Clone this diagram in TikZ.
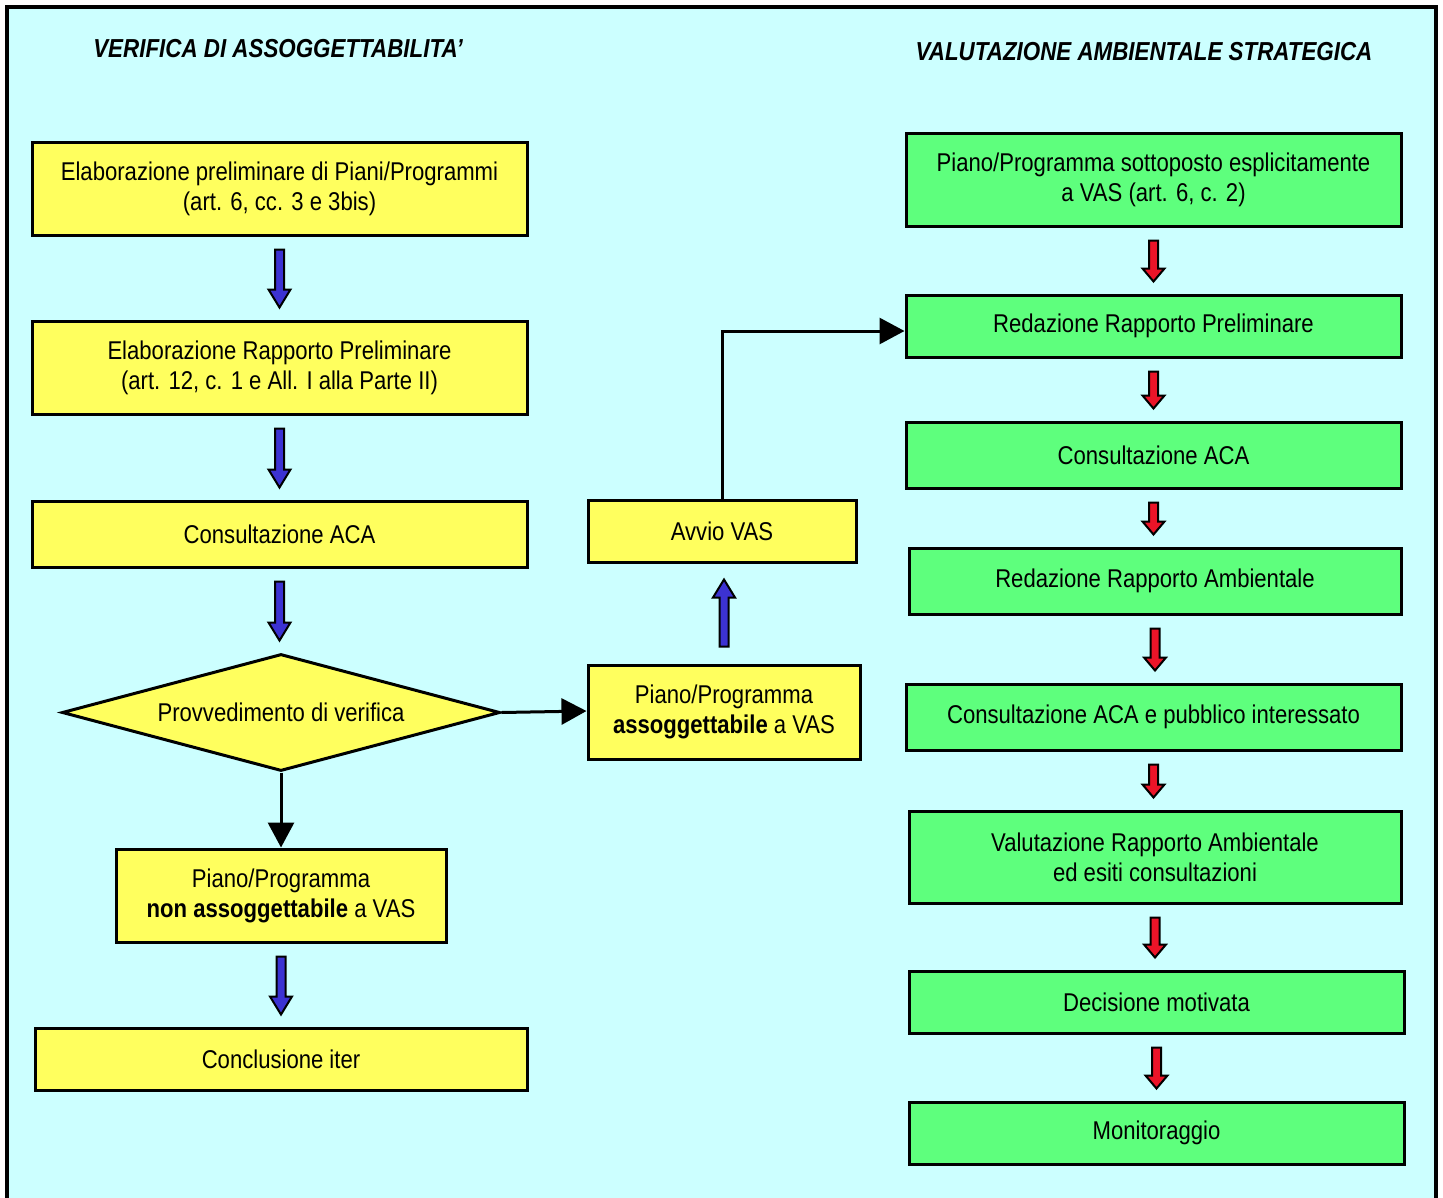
\documentclass[tikz,border=0pt]{standalone}
\usepackage{fontspec}
\setmainfont{Liberation Sans}[FakeStretch=0.86]
\usetikzlibrary{shapes.geometric,positioning,calc,arrows.meta}
\definecolor{bgcyan}{RGB}{204,255,255}
\definecolor{boxyellow}{RGB}{255,255,94}
\definecolor{boxgreen}{RGB}{94,255,125}
\definecolor{arrblue}{RGB}{60,50,210}
\definecolor{arrred}{RGB}{235,20,40}

% block arrow going down: [head length]{from}{to}{colour}
\newcommand{\blkdown}[4][18]{%
  \coordinate (s) at ($(#2.south)+(0,13)$);
  \coordinate (e) at ($(s |- #3.north)+(0,-12)$);
  \draw[blkarr, fill=#4] ($(s)+(-4.5,0)$) -- ($(e)+(-4.5,-#1)$) -- ($(e)+(-11,-#1)$) -- (e)
    -- ($(e)+(11,-#1)$) -- ($(e)+(4.5,-#1)$) -- ($(s)+(4.5,0)$) -- cycle;}
% block arrow going up
\newcommand{\blkup}[4][18]{%
  \coordinate (s) at ($(#2.north)+(0,-17)$);
  \coordinate (e) at ($(s |- #3.south)+(0,16)$);
  \draw[blkarr, fill=#4] ($(s)+(-4.5,0)$) -- ($(e)+(-4.5,#1)$) -- ($(e)+(-11,#1)$) -- (e)
    -- ($(e)+(11,#1)$) -- ($(e)+(4.5,#1)$) -- ($(s)+(4.5,0)$) -- cycle;}

\begin{document}
\begin{tikzpicture}[
    x=1pt, y=-1pt,
    box/.style={draw, line width=3pt, fill=boxyellow, minimum width=495pt, minimum height=93pt, inner sep=0pt, align=center, font=\fontsize{25.7}{30}\selectfont},
    gbox/.style={box, fill=boxgreen},
    title/.style={font=\fontsize{26}{30}\selectfont\bfseries\itshape},
    blkarr/.style={draw, line width=2pt, line join=miter},
    arrow/.style={line width=3pt, -{Triangle[length=25pt,width=26pt]}}
]
\useasboundingbox (0,0) rectangle (1443,1197);
\clip (0,0) rectangle (1443,1197);

% frame
\draw[line width=3.5pt, fill=bgcyan] (7,7) rectangle (1436,1215);

% titles
\node[title] (tleft) at (278,49) {VERIFICA DI ASSOGGETTABILITA’};
\node[title] (tright) at (1144,52) {VALUTAZIONE AMBIENTALE STRATEGICA};

% left column - verifica
\node[box] (b1) at (279.5,188.5) {Elaborazione preliminare di Piani/Programmi\\(art. 6, cc. 3 e 3bis)};
\node[box] (b2) at (279.5,367.5) {Elaborazione Rapporto Preliminare\\(art. 12, c. 1 e All. I alla Parte II)};
\node[box, minimum height=66pt] (b3) at (279.5,534) {Consultazione ACA};
\node[box, diamond, aspect=3.7, minimum width=438pt, minimum height=117pt] (dia) at (281,712.5) {Provvedimento di verifica};
\node[box, minimum width=330pt] (b4) at (281,895.5) {Piano/Programma\\\textbf{non assoggettabile} a VAS};
\node[box, minimum width=492pt, minimum height=62pt] (b5) at (281,1059) {Conclusione iter};

% middle column
\node[box, minimum width=268pt, minimum height=62pt] (m1) at (722,531) {Avvio VAS};
\node[box, minimum width=272pt, minimum height=94pt] (m2) at (724,712) {Piano/Programma\\\textbf{assoggettabile} a VAS};

% right column - VAS
\node[gbox] (r1) at (1153.5,179.5) {Piano/Programma sottoposto esplicitamente\\a VAS (art. 6, c. 2)};
\node[gbox, minimum height=62pt] (r2) at (1153.5,326) {Redazione Rapporto Preliminare};
\node[gbox, minimum height=66pt] (r3) at (1153.5,455) {Consultazione ACA};
\node[gbox, minimum width=492pt, minimum height=66pt] (r4) at (1155,581) {Redazione Rapporto Ambientale};
\node[gbox, minimum height=66pt] (r5) at (1153.5,717) {Consultazione ACA e pubblico interessato};
\node[gbox, minimum width=492pt, minimum height=92pt] (r6) at (1155,857) {Valutazione Rapporto Ambientale\\ed esiti consultazioni};
\node[gbox, minimum height=62pt] (r7) at (1156.5,1002) {Decisione motivata};
\node[gbox, minimum height=62pt] (r8) at (1156.5,1133) {Monitoraggio};

% blue block arrows
\blkdown{b1}{b2}{arrblue}
\blkdown{b2}{b3}{arrblue}
\blkdown{b3}{dia}{arrblue}
\blkdown{b4}{b5}{arrblue}
\blkup{m2}{m1}{arrblue}

% red block arrows
\blkdown[13]{r1}{r2}{arrred}
\blkdown[13]{r2}{r3}{arrred}
\blkdown[13]{r3}{r4}{arrred}
\blkdown[13]{r4}{r5}{arrred}
\blkdown[13]{r5}{r6}{arrred}
\blkdown[13]{r6}{r7}{arrred}
\blkdown[13]{r7}{r8}{arrred}

% black connectors
\draw[arrow] (dia.east) -- ([yshift=1pt]m2.west);
\draw[arrow] (dia.south) -- (b4.north);
\draw[arrow] (m1.north) |- ([yshift=-5pt]r2.west);

\end{tikzpicture}
\end{document}
